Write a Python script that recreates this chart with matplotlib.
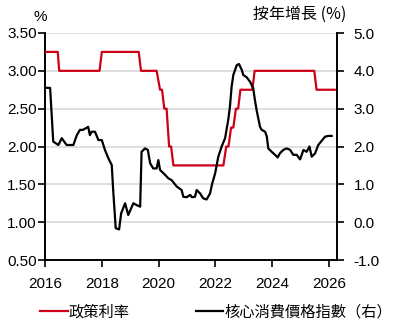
import matplotlib
matplotlib.use("Agg")
import matplotlib.pyplot as plt
from matplotlib.lines import Line2D

# 政策利率 (left axis, %), corner points of the step series
rate_dates = [2016.00, 2016.45, 2016.50, 2017.92, 2018.00, 2019.30, 2019.38, 2019.93,
              2020.05, 2020.12, 2020.20, 2020.28, 2020.37, 2020.44, 2020.52, 2022.28,
              2022.38, 2022.46, 2022.55, 2022.63, 2022.72, 2022.80, 2022.88, 2023.30,
              2023.38, 2025.48, 2025.56, 2026.20]
rate_vals = [3.25, 3.25, 3.00, 3.00, 3.25, 3.25, 3.00, 3.00,
             2.75, 2.75, 2.50, 2.50, 2.00, 2.00, 1.75, 1.75,
             2.00, 2.00, 2.25, 2.25, 2.50, 2.50, 2.75, 2.75,
             3.00, 3.00, 2.75, 2.75]

# 核心消費價格指數 (right axis, yoy %)
cpi_dates = [2016.04, 2016.18, 2016.29, 2016.47, 2016.59, 2016.76, 2017.00, 2017.12,
             2017.23, 2017.34, 2017.52, 2017.58, 2017.64, 2017.76, 2017.88, 2018.00,
             2018.11, 2018.23, 2018.35, 2018.40, 2018.49, 2018.61, 2018.68, 2018.82,
             2018.93, 2019.11, 2019.23, 2019.35, 2019.40, 2019.52, 2019.62, 2019.70,
             2019.81, 2019.93, 2019.99, 2020.05, 2020.23, 2020.34, 2020.46, 2020.64,
             2020.81, 2020.87, 2020.99, 2021.11, 2021.17, 2021.28, 2021.34, 2021.46,
             2021.57, 2021.69, 2021.81, 2021.89, 2021.99, 2022.10, 2022.22, 2022.34,
             2022.45, 2022.51, 2022.57, 2022.63, 2022.75, 2022.83, 2022.93, 2022.98,
             2023.10, 2023.22, 2023.33, 2023.39, 2023.45, 2023.57, 2023.63, 2023.75,
             2023.81, 2023.86, 2023.98, 2024.10, 2024.19, 2024.27, 2024.39, 2024.51,
             2024.63, 2024.74, 2024.86, 2024.98, 2025.10, 2025.21, 2025.31, 2025.39,
             2025.51, 2025.62, 2025.74, 2025.86, 2025.98, 2026.09]
cpi_vals = [3.55, 3.55, 2.13, 2.04, 2.22, 2.04, 2.04, 2.30,
            2.44, 2.44, 2.52, 2.30, 2.39, 2.39, 2.17, 2.17,
            1.91, 1.69, 1.51, 0.85, -0.16, -0.19, 0.23, 0.50,
            0.19, 0.50, 0.45, 0.41, 1.86, 1.95, 1.91, 1.56,
            1.42, 1.42, 1.64, 1.38, 1.25, 1.16, 1.11, 0.94,
            0.85, 0.67, 0.66, 0.72, 0.66, 0.67, 0.85, 0.76,
            0.63, 0.60, 0.76, 1.03, 1.29, 1.73, 2.00, 2.22,
            2.70, 3.05, 3.58, 3.89, 4.15, 4.18, 4.02, 3.89,
            3.83, 3.71, 3.54, 3.23, 2.96, 2.52, 2.44, 2.39,
            2.26, 1.95, 1.86, 1.78, 1.71, 1.82, 1.91, 1.95,
            1.91, 1.78, 1.78, 1.66, 1.91, 1.86, 2.00, 1.73,
            1.82, 2.04, 2.15, 2.26, 2.28, 2.28]

x_ticks = [2016, 2018, 2020, 2022, 2024, 2026]
left_ticks = [0.5, 1.0, 1.5, 2.0, 2.5, 3.0, 3.5]
right_ticks = [-1.0, 0.0, 1.0, 2.0, 3.0, 4.0, 5.0]

RED = "#CC0018"
CJK = ["Noto Sans CJK TC", "DejaVu Sans"]
NUM = "Liberation Sans"
NUM_SIZE = 11

fig = plt.figure(figsize=(4.03, 3.24), dpi=100)
ax = fig.add_axes([45 / 403, 1 - 260 / 324, 292 / 403, 227 / 324])
ax2 = ax.twinx()

ax.plot(rate_dates, rate_vals, color=RED, lw=1.6, zorder=3)
ax2.plot(cpi_dates, cpi_vals, color="black", lw=1.6, zorder=3)

ax.set_xlim(2016, 2026.28)
ax.set_ylim(0.5, 3.5)
ax2.set_ylim(-1.0, 5.0)

ax.set_xticks(x_ticks)
ax.set_xticklabels([str(t) for t in x_ticks], fontfamily=NUM, fontsize=NUM_SIZE)
ax.set_yticks(left_ticks)
ax.set_yticklabels([f"{t:.2f}" for t in left_ticks], fontfamily=NUM, fontsize=NUM_SIZE)
ax2.set_yticks(right_ticks)
ax2.set_yticklabels([f"{t:.1f}" for t in right_ticks], fontfamily=NUM, fontsize=NUM_SIZE)

# horizontal grid on the left-axis levels
for t in left_ticks[1:]:
    ax.axhline(t, color="#d9d9d9", lw=1.2, zorder=0)

ax.tick_params(axis="x", length=5, width=1.2, pad=7, colors="black")
ax.tick_params(axis="y", length=5, width=1.2, pad=1)
ax2.tick_params(axis="y", length=5, width=1.2, pad=7)

for a in (ax, ax2):
    a.spines["top"].set_visible(False)
    for s in ("left", "right", "bottom"):
        a.spines[s].set_linewidth(1.4)
ax.spines["right"].set_visible(False)
ax2.spines["left"].set_visible(False)
ax2.spines["bottom"].set_visible(False)

fig.text(40 / 403, 1 - 17 / 324, "%", fontfamily=NUM, fontsize=NUM_SIZE, ha="center", va="center")
fig.text(300 / 403, 1 - 14 / 324, "按年增長 (%)", fontfamily=CJK, fontsize=11.5,
         ha="center", va="center")

handles = [Line2D([], [], color=RED, lw=1.6), Line2D([], [], color="black", lw=1.6)]
fig.legend(handles, ["政策利率", "核心消費價格指數（右）"], loc="center left",
           bbox_to_anchor=(40 / 403, 1 - 312 / 324), ncol=2, frameon=False,
           prop={"family": CJK, "size": 11}, handlelength=1.8, handletextpad=0.1,
           columnspacing=4.3, borderaxespad=0, borderpad=0)

fig.savefig("out.png", dpi=100)
